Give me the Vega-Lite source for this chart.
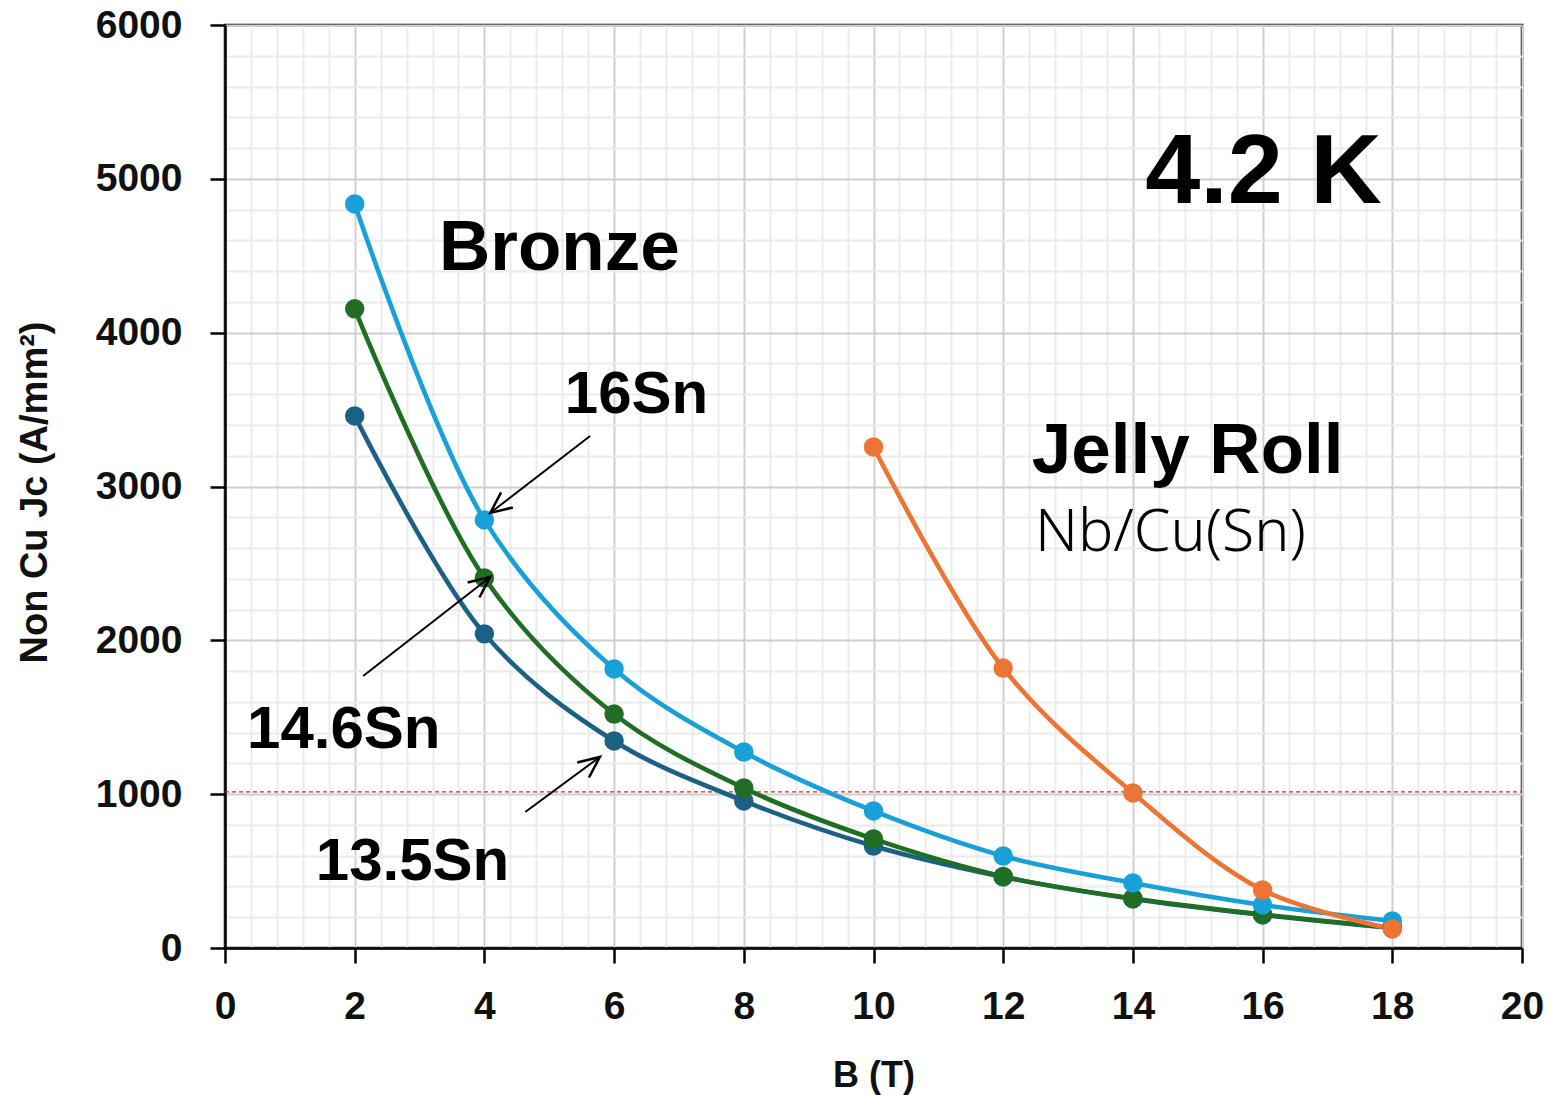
{
  "$schema": "https://vega.github.io/schema/vega-lite/v6.json",
  "width": 1297,
  "height": 923,
  "autosize": "none",
  "padding": {"left": 225, "top": 25, "right": 40, "bottom": 147},
  "background": "white",
  "config": {
    "view": {"stroke": "black", "strokeWidth": 2.5},
    "font": "Liberation Sans"
  },
  "datasets": {
    "series": [
      {"B": 2, "Jc": 3459, "s": "13.5Sn"},
      {"B": 4, "Jc": 2042, "s": "13.5Sn"},
      {"B": 6, "Jc": 1346, "s": "13.5Sn"},
      {"B": 8, "Jc": 956, "s": "13.5Sn"},
      {"B": 10, "Jc": 663, "s": "13.5Sn"},
      {"B": 12, "Jc": 462, "s": "13.5Sn"},
      {"B": 14, "Jc": 319, "s": "13.5Sn"},
      {"B": 16, "Jc": 215, "s": "13.5Sn"},
      {"B": 18, "Jc": 130, "s": "13.5Sn"},
      {"B": 2, "Jc": 4155, "s": "14.6Sn"},
      {"B": 4, "Jc": 2406, "s": "14.6Sn"},
      {"B": 6, "Jc": 1521, "s": "14.6Sn"},
      {"B": 8, "Jc": 1040, "s": "14.6Sn"},
      {"B": 10, "Jc": 709, "s": "14.6Sn"},
      {"B": 12, "Jc": 465, "s": "14.6Sn"},
      {"B": 14, "Jc": 322, "s": "14.6Sn"},
      {"B": 16, "Jc": 218, "s": "14.6Sn"},
      {"B": 18, "Jc": 132, "s": "14.6Sn"},
      {"B": 2, "Jc": 4837, "s": "16Sn"},
      {"B": 4, "Jc": 2783, "s": "16Sn"},
      {"B": 6, "Jc": 1814, "s": "16Sn"},
      {"B": 8, "Jc": 1274, "s": "16Sn"},
      {"B": 10, "Jc": 891, "s": "16Sn"},
      {"B": 12, "Jc": 598, "s": "16Sn"},
      {"B": 14, "Jc": 423, "s": "16Sn"},
      {"B": 16, "Jc": 280, "s": "16Sn"},
      {"B": 18, "Jc": 176, "s": "16Sn"},
      {"B": 10, "Jc": 3257, "s": "Jelly Roll"},
      {"B": 12, "Jc": 1820, "s": "Jelly Roll"},
      {"B": 14, "Jc": 1008, "s": "Jelly Roll"},
      {"B": 16, "Jc": 377, "s": "Jelly Roll"},
      {"B": 18, "Jc": 124, "s": "Jelly Roll"}
    ],
    "arrows": [
      {"id": "16Sn", "B": 5.63, "Jc": 3328, "B2": 4.09, "Jc2": 2828},
      {"id": "14.6Sn", "B": 2.13, "Jc": 1768, "B2": 4.09, "Jc2": 2412},
      {"id": "13.5Sn", "B": 4.63, "Jc": 884, "B2": 5.78, "Jc2": 1242}
    ],
    "heads": [
      {"id": "16Sn", "B": 4.09, "Jc": 2828},
      {"id": "14.6Sn", "B": 4.09, "Jc": 2412},
      {"id": "13.5Sn", "B": 5.78, "Jc": 1242}
    ]
  },
  "encoding": {
    "x": {
      "field": "B", "type": "quantitative",
      "scale": {"domain": [0, 20], "nice": false, "zero": false},
      "axis": {
        "title": "B (T)",
        "titleFont": "Liberation Sans", "titleFontSize": 36, "titleFontWeight": "bold", "titleColor": "#111",
        "titleY": 127, "titleBaseline": "middle",
        "values": [0,0.4,0.8,1.2,1.6,2,2.4,2.8,3.2,3.6,4,4.4,4.8,5.2,5.6,6,6.4,6.8,7.2,7.6,8,8.4,8.8,9.2,9.6,10,10.4,10.8,11.2,11.6,12,12.4,12.8,13.2,13.6,14,14.4,14.8,15.2,15.6,16,16.4,16.8,17.2,17.6,18,18.4,18.8,19.2,19.6,20],
        "labelExpr": "abs(datum.value - round(datum.value/2)*2) < 0.01 ? format(datum.value, 'd') : ''",
        "labelOverlap": false, "labelFlush": false,
        "labelFont": "Liberation Sans", "labelFontSize": 39, "labelFontWeight": "bold", "labelColor": "#111",
        "labelPadding": 24,
        "tickSize": 15, "tickWidth": 2.5,
        "tickColor": {"condition": {"test": "abs(datum.value - round(datum.value/2)*2) < 0.01", "value": "black"}, "value": "transparent"},
        "domainColor": "black", "domainWidth": 2.5,
        "grid": true,
        "gridColor": {"condition": {"test": "abs(datum.value - round(datum.value/2)*2) < 0.01", "value": "#d0d0d0"}, "value": "#ebebeb"},
        "gridWidth": 2
      }
    },
    "y": {
      "field": "Jc", "type": "quantitative",
      "scale": {"domain": [0, 6000], "nice": false},
      "axis": {
        "title": "Non Cu Jc (A/mm²)",
        "titleFont": "Liberation Sans", "titleFontSize": 38, "titleFontWeight": "bold", "titleColor": "#111",
        "titleX": -190, "titleY": 467, "titleBaseline": "middle", "titleAlign": "center", "titleAngle": -90,
        "values": [0,200,400,600,800,1000,1200,1400,1600,1800,2000,2200,2400,2600,2800,3000,3200,3400,3600,3800,4000,4200,4400,4600,4800,5000,5200,5400,5600,5800,6000],
        "labelExpr": "datum.value % 1000 === 0 ? format(datum.value, 'd') : ''",
        "labelOverlap": false, "labelFlush": false,
        "labelFont": "Liberation Sans", "labelFontSize": 39, "labelFontWeight": "bold", "labelColor": "#111",
        "labelPadding": 28,
        "tickSize": 15, "tickWidth": 2.5,
        "tickColor": {"condition": {"test": "datum.value % 1000 === 0", "value": "black"}, "value": "transparent"},
        "domainColor": "black", "domainWidth": 2.5,
        "grid": true,
        "gridColor": {"condition": {"test": "datum.value % 1000 === 0", "value": "#d0d0d0"}, "value": "#ebebeb"},
        "gridWidth": 2
      }
    }
  },
  "layer": [
    {
      "data": {"values": [{"B": 0, "B2": 20, "Jc": 1015}]},
      "mark": {"type": "rule", "color": "#e52222", "strokeWidth": 1.4, "strokeDash": [4, 3]},
      "encoding": {"x2": {"field": "B2"}}
    },
    {
      "data": {"name": "series"},
      "mark": {"type": "line", "interpolate": "catmull-rom", "strokeWidth": 4.6},
      "encoding": {
        "color": {
          "field": "s", "type": "nominal",
          "scale": {"domain": ["13.5Sn", "14.6Sn", "16Sn", "Jelly Roll"], "range": ["#1b6186", "#1f6e23", "#18a1d8", "#ec7434"]},
          "legend": null
        }
      }
    },
    {
      "data": {"name": "series"},
      "mark": {"type": "point", "filled": true, "opacity": 1, "size": 380, "shape": "circle"},
      "encoding": {
        "color": {"field": "s", "type": "nominal", "scale": {"domain": ["13.5Sn", "14.6Sn", "16Sn", "Jelly Roll"], "range": ["#1b6186", "#1f6e23", "#18a1d8", "#ec7434"]}, "legend": null}
      }
    },
    {
      "data": {"name": "arrows"},
      "mark": {"type": "rule", "color": "black", "strokeWidth": 2},
      "encoding": {
        "x2": {"field": "B2"},
        "y2": {"field": "Jc2"}
      }
    },
    {
      "data": {"name": "heads"},
      "transform": [{"filter": "datum.id === '16Sn'"}],
      "mark": {"type": "point", "shape": "M -1 -0.45 L 0 0 L -1 0.45", "filled": false, "stroke": "black", "strokeWidth": 2.5, "size": 1800, "angle": 142, "opacity": 1}
    },
    {
      "data": {"name": "heads"},
      "transform": [{"filter": "datum.id !== '16Sn'"}],
      "mark": {"type": "point", "shape": "M -1 -0.45 L 0 0 L -1 0.45", "filled": false, "stroke": "black", "strokeWidth": 2.5, "size": 1800, "angle": 322, "opacity": 1}
    },
    {
      "data": {"values": [
        {"B": 3.3, "Jc": 4407, "t": "Bronze"},
        {"B": 12.44, "Jc": 3090, "t": "Jelly Roll"}
      ]},
      "mark": {"type": "text", "align": "left", "baseline": "alphabetic", "font": "Liberation Sans", "fontWeight": "bold", "fontSize": 71, "color": "black"},
      "encoding": {"text": {"field": "t"}}
    },
    {
      "data": {"values": [
        {"B": 5.24, "Jc": 3478, "t": "16Sn"},
        {"B": 0.34, "Jc": 1300, "t": "14.6Sn"},
        {"B": 1.4, "Jc": 442, "t": "13.5Sn"}
      ]},
      "mark": {"type": "text", "align": "left", "baseline": "alphabetic", "font": "Liberation Sans", "fontWeight": "bold", "fontSize": 60, "color": "black"},
      "encoding": {"text": {"field": "t"}}
    },
    {
      "data": {"values": [{"B": 14.19, "Jc": 4843, "t": "4.2 K"}]},
      "mark": {"type": "text", "align": "left", "baseline": "alphabetic", "font": "Liberation Sans", "fontWeight": "bold", "fontSize": 99, "color": "black"},
      "encoding": {"text": {"field": "t"}}
    },
    {
      "data": {"values": [{"B": 12.49, "Jc": 2580, "t": "Nb/Cu(Sn)"}]},
      "mark": {"type": "text", "align": "left", "baseline": "alphabetic", "font": "Noto Sans", "fontWeight": 300, "fontSize": 59, "color": "black"},
      "encoding": {"text": {"field": "t"}}
    }
  ]
}
